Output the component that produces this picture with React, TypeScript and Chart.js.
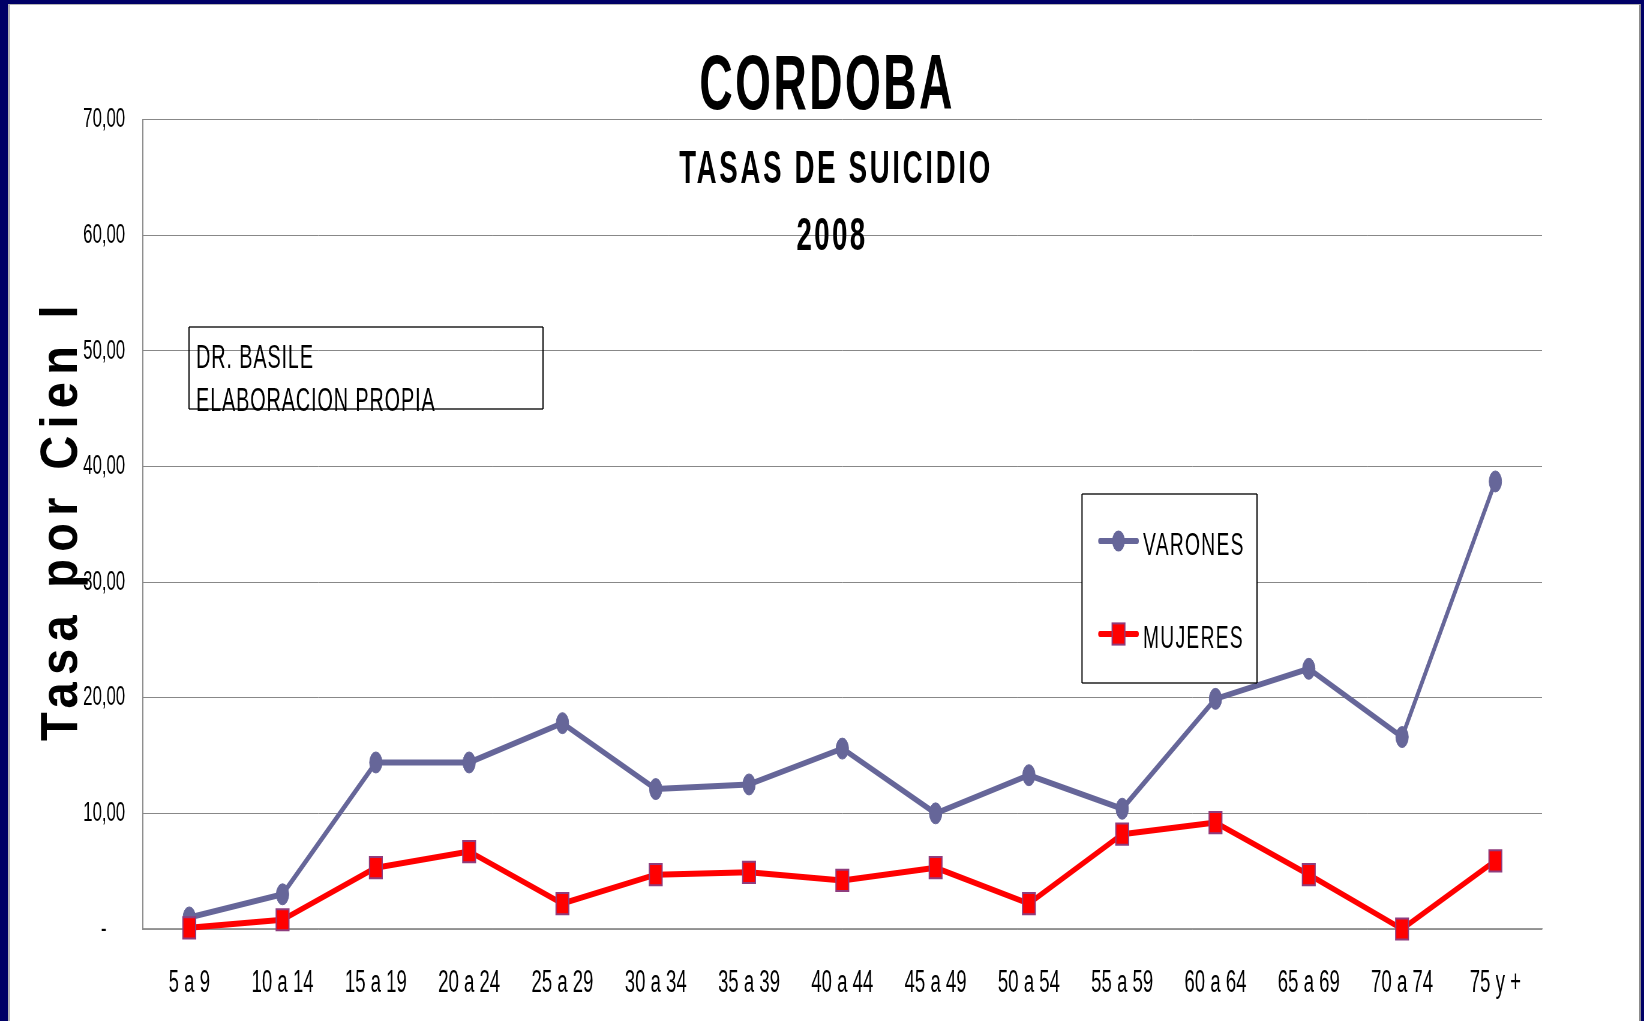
import React, { useEffect, useRef } from 'react';
import { Chart, registerables } from 'chart.js';

Chart.register(...registerables);

// ---------- data ----------
const categories = ['5 a 9', '10 a 14', '15 a 19', '20 a 24', '25 a 29', '30 a 34', '35 a 39', '40 a 44', '45 a 49', '50 a 54', '55 a 59', '60 a 64', '65 a 69', '70 a 74', '75 y +'];
const varonesValues = [1.0, 3.0, 14.4, 14.4, 17.8, 12.1, 12.5, 15.6, 10.0, 13.3, 10.4, 19.9, 22.5, 16.6, 38.7];
const mujeresValues = [0.1, 0.8, 5.3, 6.7, 2.2, 4.7, 4.9, 4.2, 5.3, 2.2, 8.2, 9.2, 4.7, 0.0, 5.9];
const seriesNames = ['VARONES', 'MUJERES'];
const yTickLabels = ['-    ', '10,00', '20,00', '30,00', '40,00', '50,00', '60,00', '70,00'];
const titleLines = ['CORDOBA', 'TASAS DE SUICIDIO', '2008'];
const axisTitle = 'Tasa por Cien l';
const sourceLines = ['DR. BASILE', 'ELABORACION PROPIA'];

// ---------- geometry (screen px; canvas is squeezed horizontally) ----------
const SX = 0.6;
const FULL_W = 1644;
const FULL_H = 1021;
const INT_W = Math.round(FULL_W / SX);
const ix = (x: number) => x / SX;
const FONT = "'Liberation Sans', Arial, sans-serif";

Chart.defaults.font.family = FONT;

function drawText(ctx: CanvasRenderingContext2D, s: string, x: number, y: number, font: string, align: CanvasTextAlign, spacing: number) {
  ctx.font = font;
  (ctx as any).letterSpacing = spacing + 'px';
  ctx.textAlign = align;
  ctx.textBaseline = 'alphabetic';
  ctx.fillStyle = '#000';
  ctx.fillText(s, x, y);
  (ctx as any).letterSpacing = '0px';
}

function hLine(ctx: CanvasRenderingContext2D, x1: number, x2: number, y: number, w: number) {
  ctx.fillRect(x1, y - w / 2, x2 - x1, w);
}
function vLine(ctx: CanvasRenderingContext2D, x: number, y1: number, y2: number, w: number) {
  ctx.fillRect(x - w / 2, y1, w, y2 - y1);
}

const overlayPlugin = {
  id: 'overlay',
  afterDraw(chart: any) {
    const ctx: CanvasRenderingContext2D = chart.ctx;
    ctx.save();

    // titles
    drawText(ctx, titleLines[0], ix(827), 109, `bold 77px ${FONT}`, 'center', 4);
    drawText(ctx, titleLines[1], ix(836), 183, `bold 46px ${FONT}`, 'center', 4.5);
    drawText(ctx, titleLines[2], ix(832), 250, `bold 46px ${FONT}`, 'center', 4);

    // source box
    ctx.fillStyle = '#000';
    const bx1 = ix(189), bx2 = ix(543), by1 = 327, by2 = 409;
    hLine(ctx, bx1, bx2, by1, 1.3);
    hLine(ctx, bx1, bx2, by2, 1.3);
    vLine(ctx, bx1, by1, by2, 2);
    vLine(ctx, bx2, by1, by2, 2);
    drawText(ctx, sourceLines[0], ix(196), 368, `33px ${FONT}`, 'left', 1.5);
    drawText(ctx, sourceLines[1], ix(196), 411, `33px ${FONT}`, 'left', 1.5);

    // legend box
    const lx1 = ix(1082), lx2 = ix(1257), ly1 = 494, ly2 = 683;
    ctx.fillStyle = '#fff';
    ctx.fillRect(lx1, ly1, lx2 - lx1, ly2 - ly1);
    ctx.fillStyle = '#000';
    hLine(ctx, lx1, lx2, ly1, 1.3);
    hLine(ctx, lx1, lx2, ly2, 1.3);
    vLine(ctx, lx1, ly1, ly2, 2);
    vLine(ctx, lx2, ly1, ly2, 2);
    const rows = [541, 634];
    chart.data.datasets.forEach((ds: any, i: number) => {
      const y = rows[i];
      ctx.strokeStyle = ds.borderColor;
      ctx.lineWidth = 6;
      ctx.lineCap = 'round';
      ctx.beginPath();
      ctx.moveTo(ix(1100), y);
      ctx.lineTo(ix(1137), y);
      ctx.stroke();
      const cx = ix(1118.5);
      if (ds.pointStyle === 'circle') {
        ctx.fillStyle = ds.pointBackgroundColor;
        ctx.beginPath();
        ctx.arc(cx, y, ds.pointRadius, 0, Math.PI * 2);
        ctx.fill();
      } else {
        const h = ds.pointRadius * Math.SQRT1_2;
        ctx.fillStyle = ds.pointBackgroundColor;
        ctx.fillRect(cx - h, y - h, 2 * h, 2 * h);
        ctx.strokeStyle = ds.pointBorderColor;
        ctx.lineWidth = ds.pointBorderWidth;
        ctx.lineCap = 'butt';
        ctx.strokeRect(cx - h, y - h, 2 * h, 2 * h);
      }
      drawText(ctx, ds.label, ix(1143), y + 14, `32px ${FONT}`, 'left', 2.2);
    });

    // rotated axis title
    ctx.save();
    ctx.translate(ix(77), 741);
    ctx.rotate(-Math.PI / 2);
    ctx.scale(1, 1.12 / SX);
    drawText(ctx, axisTitle, 0, 0, `bold 47px ${FONT}`, 'left', 7.3);
    ctx.restore();

    ctx.restore();
  },
};

export default function App() {
  const ref = useRef<HTMLCanvasElement | null>(null);

  useEffect(() => {
    if (!ref.current) return;
    const chart = new Chart(ref.current, {
      type: 'line',
      data: {
        labels: categories,
        datasets: [
          {
            label: seriesNames[0],
            data: varonesValues,
            borderColor: '#666699',
            backgroundColor: '#666699',
            borderWidth: 6,
            borderJoinStyle: 'round',
            pointStyle: 'circle',
            pointRadius: 10.5,
            pointBackgroundColor: '#666699',
            pointBorderColor: '#666699',
            pointBorderWidth: 1,
            tension: 0,
            order: 1,
            clip: false,
          } as any,
          {
            label: seriesNames[1],
            data: mujeresValues,
            borderColor: '#FF0000',
            backgroundColor: '#FF0000',
            borderWidth: 6,
            borderJoinStyle: 'round',
            pointStyle: 'rect',
            pointRadius: 15,
            pointBackgroundColor: '#FF0000',
            pointBorderColor: '#8E3D7E',
            pointBorderWidth: 2,
            tension: 0,
            order: 0,
            clip: false,
          } as any,
        ],
      },
      options: {
        responsive: false,
        animation: false,
        devicePixelRatio: 1,
        layout: { padding: { top: 119.5, right: INT_W - ix(1542), left: 0, bottom: 0 } },
        plugins: {
          legend: { display: false },
          tooltip: { enabled: false },
          title: { display: false },
        },
        scales: {
          x: {
            type: 'category',
            offset: true,
            grid: { display: false, drawTicks: false, tickLength: 0 },
            border: { display: true, color: '#999999', width: 1.5 },
            ticks: { color: '#000', font: { size: 31 }, padding: 36, maxRotation: 0, autoSkip: false },
            afterFit: (s: any) => { s.height = 92; },
          },
          y: {
            min: 0,
            max: 70,
            ticks: {
              stepSize: 10,
              color: '#000',
              font: { size: 28 },
              padding: 29,
              callback: (_v: any, i: number) => yTickLabels[i],
            },
            grid: { color: '#888888', lineWidth: 1, drawTicks: false, tickLength: 0 },
            border: { display: true, color: '#888888', width: 2 },
            afterFit: (s: any) => { s.width = ix(142.6); },
          },
        },
      } as any,
      plugins: [overlayPlugin],
    });
    return () => chart.destroy();
  }, []);

  return (
    <div style={{ position: 'fixed', left: 0, top: 0, width: FULL_W, height: FULL_H, background: '#000066', overflow: 'hidden' }}>
      <div
        style={{
          position: 'absolute', left: 8, top: 4, width: 1641 - 8, height: FULL_H - 4 + 4,
          background: '#fff', boxSizing: 'border-box',
          borderLeft: '2px solid #b4b4b4', borderTop: '1px solid #b4b4b4', borderRight: '2px solid #8c8c8c',
        }}
      />
      <div style={{ position: 'absolute', left: 0, top: 0, width: INT_W, height: FULL_H, transform: `scaleX(${SX})`, transformOrigin: '0 0' }}>
        <canvas ref={ref} width={INT_W} height={FULL_H} />
      </div>
    </div>
  );
}
